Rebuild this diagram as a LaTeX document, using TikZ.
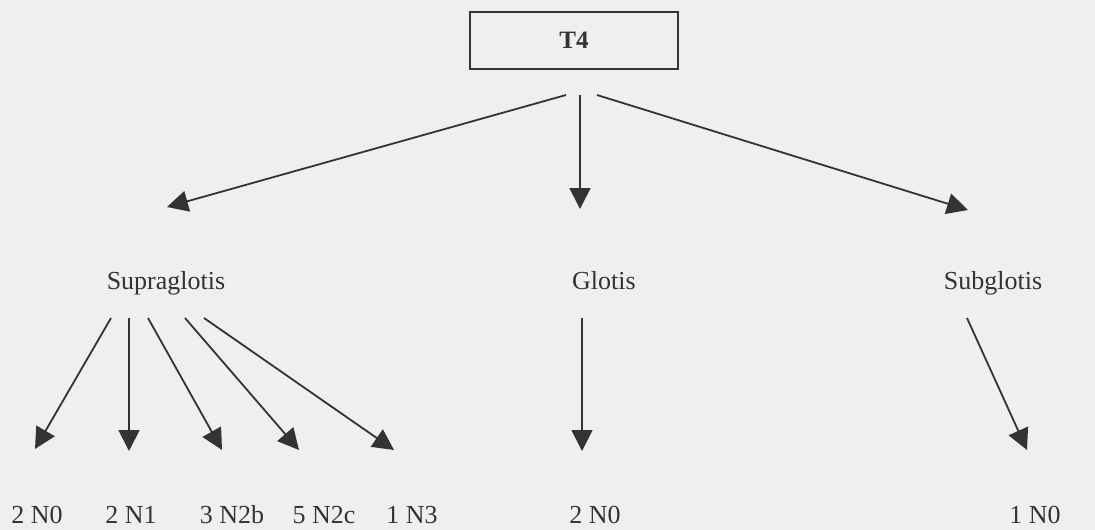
\documentclass[tikz,border=0pt]{standalone}
\usepackage{fontspec}
\setmainfont{Liberation Serif}
\usetikzlibrary{arrows.meta}
\definecolor{paper}{HTML}{EFEFEF}
\definecolor{ink}{HTML}{333333}
\begin{document}
\begin{tikzpicture}[x=1pt,y=-1pt,
  lbl/.style={text=ink,font=\fontsize{26}{30}\selectfont,inner sep=0pt,anchor=base},
  arr/.style={draw=ink,line width=1.8pt,-{Triangle[length=21pt,width=21pt]}},
  rootbox/.style={draw=ink,line width=1.3pt,minimum width=208pt,minimum height=57pt,
    text=ink,font=\fontsize{25}{29}\selectfont\bfseries}]
  % page
  \fill[paper] (0,0) rectangle (1095,530);
  \useasboundingbox (0,0) rectangle (1095,530);

  % root
  \node[rootbox] (t4) at (574,40.5) {T4};

  % level 1
  \node[lbl] (supra) at (166,289) {Supraglotis};
  \node[lbl] (glot)  at (604,289) {Glotis};
  \node[lbl] (sub)   at (993,289) {Subglotis};

  % level 2
  \node[lbl] (s0)  at (37,523)  {2 N0};
  \node[lbl] (s1)  at (131,523) {2 N1};
  \node[lbl] (s2b) at (232,523) {3 N2b};
  \node[lbl] (s2c) at (324,523) {5 N2c};
  \node[lbl] (s3)  at (412,523) {1 N3};
  \node[lbl] (g0)  at (595,523) {2 N0};
  \node[lbl] (b0)  at (1035,523) {1 N0};

  % connector ends
  \coordinate (t4a) at (566,95);
  \coordinate (t4b) at (580,95);
  \coordinate (t4c) at (597,95);
  \coordinate (supraIn) at (167,207);
  \coordinate (glotIn)  at (580,209);
  \coordinate (subIn)   at (968,210);

  \coordinate (sa) at (111,318);
  \coordinate (sb) at (129,318);
  \coordinate (sc) at (148,318);
  \coordinate (sd) at (185,318);
  \coordinate (se) at (204,318);
  \coordinate (go) at (582,318);
  \coordinate (bo) at (967,318);

  \coordinate (s0in)  at (35,449);
  \coordinate (s1in)  at (129,451);
  \coordinate (s2bin) at (222,450);
  \coordinate (s2cin) at (299,450);
  \coordinate (s3in)  at (394,450);
  \coordinate (g0in)  at (582,451);
  \coordinate (b0in)  at (1027,450);

  % connectors
  \draw[arr] (t4a) -- (supraIn);
  \draw[arr] (t4b) -- (glotIn);
  \draw[arr] (t4c) -- (subIn);

  \draw[arr] (sa) -- (s0in);
  \draw[arr] (sb) -- (s1in);
  \draw[arr] (sc) -- (s2bin);
  \draw[arr] (sd) -- (s2cin);
  \draw[arr] (se) -- (s3in);
  \draw[arr] (go) -- (g0in);
  \draw[arr] (bo) -- (b0in);
\end{tikzpicture}
\end{document}
